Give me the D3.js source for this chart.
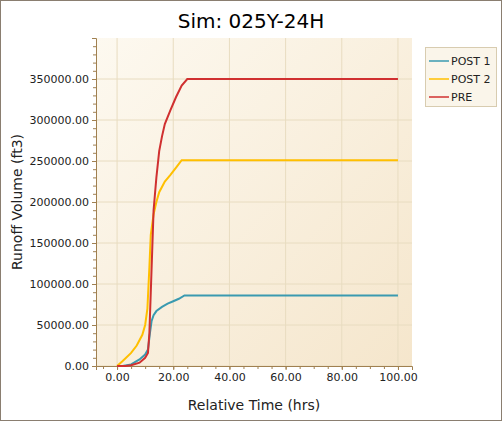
<!DOCTYPE html><html><head><meta charset="utf-8"><script src="https://cdn.jsdelivr.net/npm/d3@7"></script>
<style>body{margin:0;background:#fff}</style></head><body><svg id="c" width="502" height="421"></svg>
<script>
const seriesNames=["POST 1","POST 2","PRE"];
const colors=["#3a9ab0","#ffbf00","#d03030"];
const post1=[[0,0],[2,0],[5,2000],[8,8000],[10,14000],[11,20000],[11.7,40000],[12.3,55000],[13,62000],[14,67000],[16,72000],[18,76000],[20,79000],[22,82000],[24,86000],[100,86000]];
const post2=[[0,0],[2,6000],[5,16000],[7,25000],[9,38000],[10,50000],[10.8,70000],[11.5,120000],[12,160000],[13,185000],[14,200000],[15,212000],[17,225000],[19,233000],[21,242000],[23,251000],[100,251000]];
const pre=[[0,0],[3,0],[5,1000],[8,4000],[10,10000],[11,16000],[11.5,40000],[12,90000],[12.5,140000],[13,190000],[14,230000],[15,262000],[16,280000],[17,295000],[19,312000],[21,328000],[23,342000],[25,350000],[100,350000]];
const data=[post1,post2,pre];
const xTicks=[0,20,40,60,80,100], yTicks=[0,50000,100000,150000,200000,250000,300000,350000];
const svg=d3.select("#c");
const defs=svg.append("defs");
const g1=defs.append("linearGradient").attr("id","bg").attr("x1",0).attr("y1",0).attr("x2",1).attr("y2",1);
g1.append("stop").attr("offset",0).attr("stop-color","#fdf9f0");g1.append("stop").attr("offset",1).attr("stop-color","#f5e6cc");
svg.append("rect").attr("x",0.5).attr("y",0.5).attr("width",501).attr("height",420).attr("fill","#fff").attr("stroke","#8a7e70");
const L=96,R=412,T=38,B=366;
const x=d3.scaleLinear().domain([-7.5,105]).range([L,R]);
const y=d3.scaleLinear().domain([0,400000]).range([B,T]);
svg.append("rect").attr("x",L).attr("y",T).attr("width",R-L).attr("height",B-T).attr("fill","url(#bg)");
const gr=svg.append("g").attr("stroke","#e8dcc0").attr("stroke-width",1);
xTicks.forEach(t=>gr.append("line").attr("x1",x(t)).attr("x2",x(t)).attr("y1",T).attr("y2",B));
yTicks.forEach(t=>gr.append("line").attr("x1",L).attr("x2",R).attr("y1",y(t)).attr("y2",y(t)));
const ax=svg.append("g").attr("transform",`translate(0,${B})`).call(d3.axisBottom(x).tickValues(xTicks).tickFormat(d3.format(".2f")).tickSize(4));
ax.selectAll("text").attr("font-size",11).attr("font-family","Verdana, DejaVu Sans").attr("fill","#222");
svg.append("g").attr("transform",`translate(0,${B})`).call(d3.axisBottom(x).tickValues(d3.range(-5,105,5)).tickFormat("").tickSize(3)).select(".domain").remove();
const ay=svg.append("g").attr("transform",`translate(${L},0)`).call(d3.axisLeft(y).tickValues(yTicks).tickFormat(d3.format(".2f")).tickSize(4));
ay.selectAll("text").attr("font-size",11).attr("font-family","Verdana, DejaVu Sans").attr("fill","#222");
svg.append("g").attr("transform",`translate(${L},0)`).call(d3.axisLeft(y).tickValues(d3.range(0,400001,10000)).tickFormat("").tickSize(3)).select(".domain").remove();
svg.selectAll(".domain,.tick line").attr("stroke","#a08050");
const line=d3.line().x(d=>x(d[0])).y(d=>y(d[1]));
data.forEach((d,i)=>svg.append("path").attr("d",line(d)).attr("fill","none").attr("stroke",colors[i]).attr("stroke-width",2));
svg.append("text").attr("x",251).attr("y",28).attr("text-anchor","middle").attr("font-size",20).attr("font-family","Verdana, DejaVu Sans").text("Sim: 025Y-24H");
svg.append("text").attr("x",254).attr("y",410).attr("text-anchor","middle").attr("font-size",14).attr("font-family","Verdana, DejaVu Sans").attr("fill","#222").text("Relative Time (hrs)");
svg.append("text").attr("transform","translate(22,202) rotate(-90)").attr("text-anchor","middle").attr("font-size",14).attr("font-family","Verdana, DejaVu Sans").attr("fill","#222").text("Runoff Volume (ft3)");
const lg=svg.append("g");
lg.append("rect").attr("x",425.5).attr("y",47.5).attr("width",71).attr("height",59).attr("fill","#faf5ea").attr("stroke","#d8ccb0");
seriesNames.forEach((n,i)=>{const yy=61+i*18;
lg.append("line").attr("x1",429).attr("x2",449).attr("y1",yy).attr("y2",yy).attr("stroke",colors[i]).attr("stroke-width",1.5);
lg.append("text").attr("x",451).attr("y",yy+4).attr("font-size",11).attr("font-family","Verdana, DejaVu Sans").attr("fill","#222").text(n);});
</script></body></html>
